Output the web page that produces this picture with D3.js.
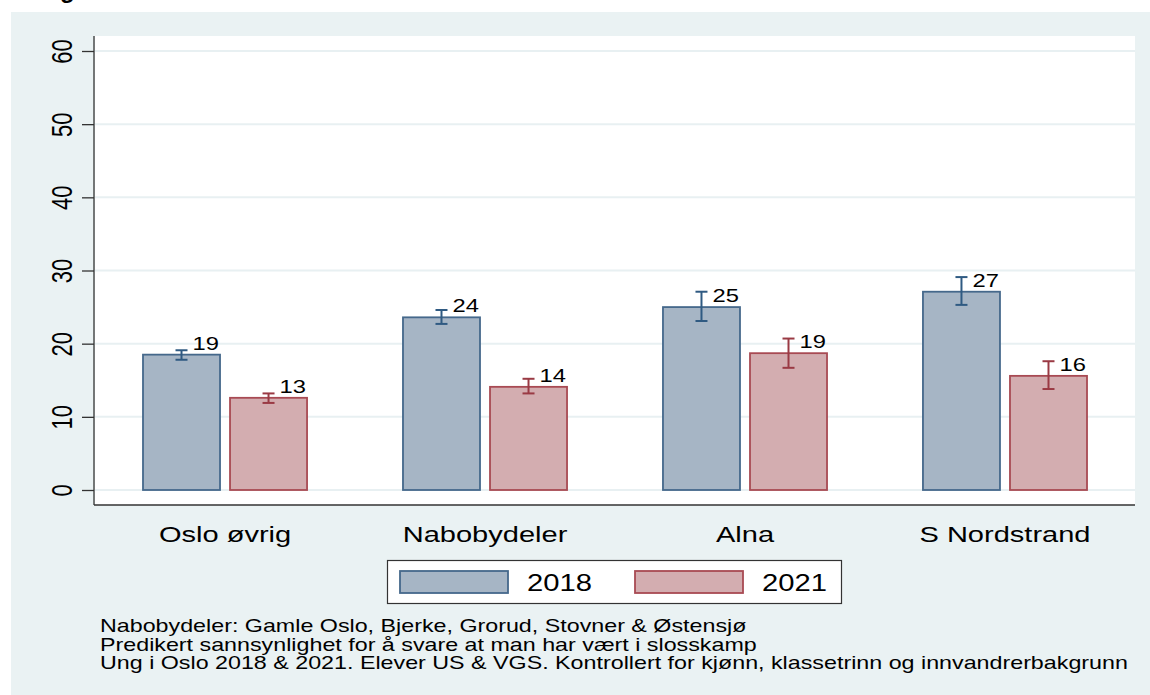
<!DOCTYPE html>
<html>
<head>
<meta charset="utf-8">
<script src="https://cdn.jsdelivr.net/npm/d3@7"></script>
<style>
  body { margin: 0; background: #fff; }
  text { font-family: "Liberation Sans", Arial, sans-serif; fill: #000; }
</style>
</head>
<body>
<svg id="chart" width="1150" height="695"></svg>
<script>
// data
var categories = ["Oslo øvrig", "Nabobydeler", "Alna", "S Nordstrand"];
var years = ["2018", "2021"];
var values2018 = [18.5, 23.6, 25.0, 27.1];
var values2021 = [12.6, 14.1, 18.7, 15.6];
var lo2018 = [17.8, 22.7, 23.1, 25.3];
var hi2018 = [19.1, 24.6, 27.1, 29.1];
var lo2021 = [11.9, 13.2, 16.7, 13.8];
var hi2021 = [13.2, 15.2, 20.7, 17.6];
var yTicks = [0, 10, 20, 30, 40, 50, 60];
var notes = [
  "Nabobydeler: Gamle Oslo, Bjerke, Grorud, Stovner & Østensjø",
  "Predikert sannsynlighet for å svare at man har vært i slosskamp",
  "Ung i Oslo 2018 & 2021. Elever US & VGS. Kontrollert for kjønn, klassetrinn og innvandrerbakgrunn"
];

var colors = {
  "2018": {fill: "#a6b5c5", stroke: "#45688b", err: "#2f5a82"},
  "2021": {fill: "#d3adb0", stroke: "#a84a53", err: "#9a3a44"}
};

// the stata export is stretched sideways, so the text is too
var sx = 1.32;

var plot = {left: 95, right: 1135, top: 36, bottom: 505};

var svg = d3.select("#chart");

// outer background
svg.append("rect")
  .attr("x", 11).attr("y", 12)
  .attr("width", 1150 - 11).attr("height", 695 - 12)
  .attr("fill", "#eaf2f3");

// bottom of a cut-off title
svg.append("text")
  .attr("x", 60).attr("y", -2)
  .attr("font-size", 24).attr("font-weight", "bold")
  .text("g");

svg.append("rect")
  .attr("x", plot.left).attr("y", plot.top)
  .attr("width", plot.right - plot.left).attr("height", plot.bottom - plot.top)
  .attr("fill", "#fff");

var y = d3.scaleLinear().domain([0, 60]).range([490, 51]);

var x0 = d3.scaleBand()
  .domain(categories)
  .range([plot.left, plot.right])
  .paddingInner(0.369)
  .paddingOuter(0.1846);

var x1 = d3.scaleBand()
  .domain(years)
  .range([0, x0.bandwidth()])
  .paddingInner(0.115);

// gridlines
svg.append("g").selectAll("line")
  .data(yTicks)
  .join("line")
  .attr("x1", plot.left).attr("x2", plot.right)
  .attr("y1", function(d){ return y(d); })
  .attr("y2", function(d){ return y(d); })
  .attr("stroke", "#e8f0f2")
  .attr("stroke-width", 2);

// y axis
var yAxis = svg.append("g")
  .attr("transform", "translate(" + (plot.left - 1) + ",0)")
  .call(d3.axisLeft(y).tickValues(yTicks).tickSize(12).tickSizeOuter(0));

yAxis.select(".domain").remove();
yAxis.selectAll(".tick line").attr("stroke", "#333").attr("stroke-width", 1.3);
yAxis.selectAll(".tick text")
  .attr("x", null).attr("dy", null)
  .attr("text-anchor", "middle")
  .attr("font-size", 22)
  .attr("fill", "#000")
  .attr("transform", "translate(-22,0) scale(" + sx + ",1) rotate(-90)");

// axis lines
svg.append("line")
  .attr("x1", plot.left - 1).attr("x2", plot.left - 1)
  .attr("y1", plot.top).attr("y2", plot.bottom)
  .attr("stroke", "#333").attr("stroke-width", 1.3);
svg.append("line")
  .attr("x1", plot.left - 1).attr("x2", plot.right)
  .attr("y1", plot.bottom).attr("y2", plot.bottom)
  .attr("stroke", "#333").attr("stroke-width", 1.3);

// rows for the bars
var rows = [];
categories.forEach(function(c, i){
  rows.push({cat: c, year: "2018", v: values2018[i], lo: lo2018[i], hi: hi2018[i]});
  rows.push({cat: c, year: "2021", v: values2021[i], lo: lo2021[i], hi: hi2021[i]});
});

var cx = function(d){ return x0(d.cat) + x1(d.year) + x1.bandwidth() / 2; };

svg.append("g").selectAll("rect")
  .data(rows)
  .join("rect")
  .attr("x", function(d){ return x0(d.cat) + x1(d.year); })
  .attr("y", function(d){ return y(d.v); })
  .attr("width", x1.bandwidth())
  .attr("height", function(d){ return y(0) - y(d.v); })
  .attr("fill", function(d){ return colors[d.year].fill; })
  .attr("stroke", function(d){ return colors[d.year].stroke; })
  .attr("stroke-width", 1.8);

// error bars
var err = svg.append("g").selectAll("g")
  .data(rows)
  .join("g")
  .attr("stroke", function(d){ return colors[d.year].err; })
  .attr("stroke-width", 2);

err.append("line")
  .attr("x1", cx).attr("x2", cx)
  .attr("y1", function(d){ return y(d.lo); })
  .attr("y2", function(d){ return y(d.hi); });
err.append("line")
  .attr("x1", function(d){ return cx(d) - 6; })
  .attr("x2", function(d){ return cx(d) + 6; })
  .attr("y1", function(d){ return y(d.lo); })
  .attr("y2", function(d){ return y(d.lo); });
err.append("line")
  .attr("x1", function(d){ return cx(d) - 6; })
  .attr("x2", function(d){ return cx(d) + 6; })
  .attr("y1", function(d){ return y(d.hi); })
  .attr("y2", function(d){ return y(d.hi); });

// value labels
svg.append("g").selectAll("text")
  .data(rows)
  .join("text")
  .attr("transform", function(d){
    return "translate(" + (cx(d) + 11) + "," + (y(d.v) - 5) + ") scale(" + sx + ",1)";
  })
  .attr("font-size", 18)
  .text(function(d){ return Math.round(d.v); });

// category labels
svg.append("g").selectAll("text")
  .data(categories)
  .join("text")
  .attr("transform", function(d){
    return "translate(" + (x0(d) + x0.bandwidth() / 2) + ",542) scale(" + sx + ",1)";
  })
  .attr("text-anchor", "middle")
  .attr("font-size", 22)
  .text(function(d){ return d; });

// legend
var legend = svg.append("g");
legend.append("rect")
  .attr("x", 387.5).attr("y", 560.5)
  .attr("width", 454).attr("height", 43)
  .attr("fill", "#fff").attr("stroke", "#333").attr("stroke-width", 1.2);

var item = legend.selectAll("g.item")
  .data(years)
  .join("g")
  .attr("class", "item")
  .attr("transform", function(d, i){ return "translate(" + (400 + i * 235) + ",0)"; });

item.append("rect")
  .attr("x", 0).attr("y", 571)
  .attr("width", 108).attr("height", 22)
  .attr("fill", function(d){ return colors[d].fill; })
  .attr("stroke", function(d){ return colors[d].stroke; })
  .attr("stroke-width", 1.8);

item.append("text")
  .attr("transform", "translate(127,591) scale(" + 1.27 + ",1)")
  .attr("font-size", 23)
  .text(function(d){ return d; });

// notes, stretched like the rest
svg.append("g").selectAll("text")
  .data(notes)
  .join("text")
  .attr("transform", function(d, i){
    return "translate(100," + (632 + i * 18.5) + ") scale(1.33,1)";
  })
  .attr("font-size", 17.5)
  .text(function(d){ return d; });
</script>
</body>
</html>
